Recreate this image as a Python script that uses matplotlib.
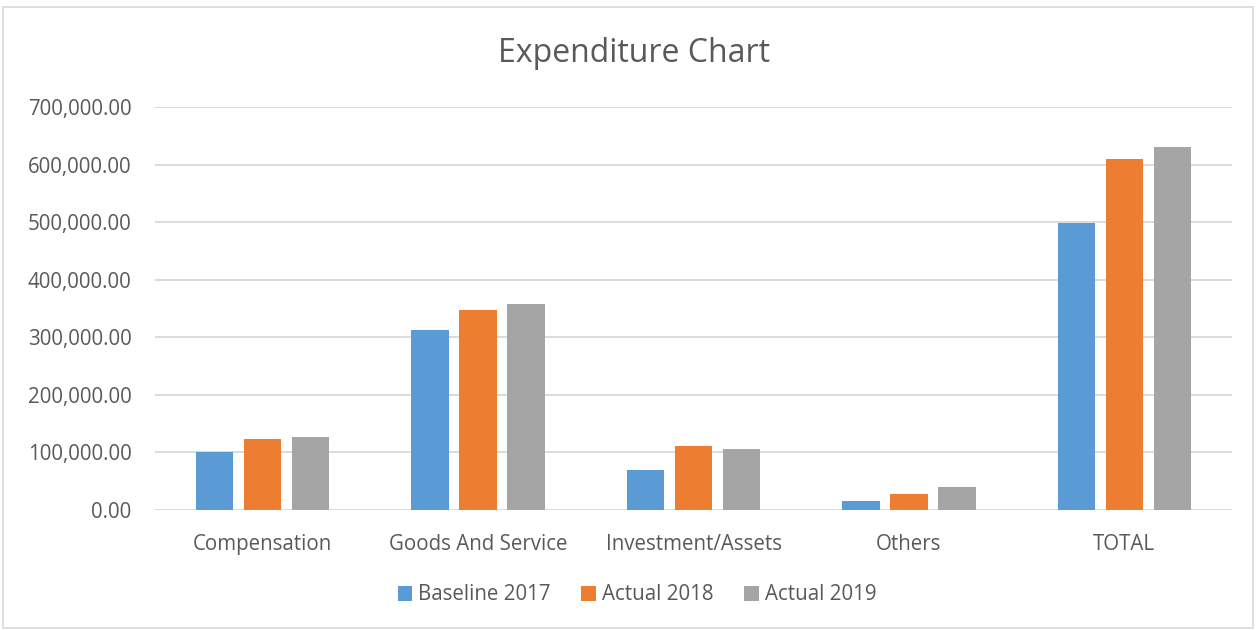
import numpy as np
import matplotlib.pyplot as plt
from matplotlib.patches import Rectangle
from matplotlib.ticker import FuncFormatter

categories = ["Compensation", "Goods And Service", "Investment/Assets", "Others", "TOTAL"]
series_names = ["Baseline 2017", "Actual 2018", "Actual 2019"]
baseline_2017 = [101000, 313000, 69000, 15000, 498000]
actual_2018 = [124000, 348000, 111000, 27000, 610000]
actual_2019 = [127000, 358000, 106000, 40000, 631000]
y_ticks = [0, 100000, 200000, 300000, 400000, 500000, 600000, 700000]

colors = ["#5B9BD5", "#ED7D31", "#A5A5A5"]
text_color = "#595959"

plt.rcParams['font.family'] = ['Open Sans', 'DejaVu Sans']

fig = plt.figure(figsize=(12.6, 6.3), dpi=100)
fig.patches.append(Rectangle((3 / 1260, 2 / 630), 1250 / 1260, 621 / 630,
                             transform=fig.transFigure, fill=False,
                             edgecolor="#D9D9D9", linewidth=1.2))

ax = fig.add_axes([155 / 1260, 1 - 510 / 630, 1077 / 1260, 403 / 630])

x = np.arange(len(categories))
width = 0.174
step = 0.223
for i, (vals, name) in enumerate(zip([baseline_2017, actual_2018, actual_2019], series_names)):
    ax.bar(x + (i - 1) * step, vals, width, color=colors[i], label=name, zorder=3)

ax.set_xlim(-0.5, len(categories) - 0.5)
ax.set_ylim(0, 700000)
ax.set_yticks(y_ticks)
ax.yaxis.set_major_formatter(FuncFormatter(lambda v, p: f"{v:,.2f}"))
ax.set_xticks(x)
ax.set_xticklabels(categories)
ax.tick_params(axis='both', length=0, labelsize=14.8, colors=text_color)
ax.tick_params(axis='x', pad=17)
ax.tick_params(axis='y', pad=17)
ax.grid(axis='y', color="#D9D9D9", linewidth=1.3, zorder=0)
for s in ax.spines.values():
    s.set_visible(False)

fig.text(634 / 1260, 1 - 53 / 630, "Expenditure Chart", ha='center', va='center',
         fontsize=23, color=text_color)

fig.legend(loc='center', bbox_to_anchor=(637 / 1260, 1 - 595 / 630), ncol=3, frameon=False,
           fontsize=14.8, labelcolor=text_color, handlelength=0.7, handleheight=0.7,
           handletextpad=0.3, columnspacing=1.5)

fig.savefig("out.png", dpi=100)
